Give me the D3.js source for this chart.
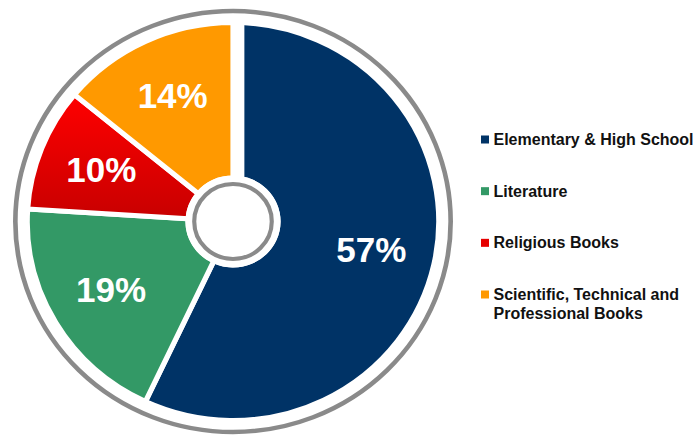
<!DOCTYPE html>
<html>
<head>
<meta charset="utf-8">
<script src="https://cdn.jsdelivr.net/npm/d3@7"></script>
<style>
  html, body { margin: 0; padding: 0; background: #fff; }
  svg { display: block; }
</style>
</head>
<body>
<svg id="chart" width="697" height="435"></svg>
<script>
// Book market share by category
const categories = ["Elementary & High School", "Literature", "Religious Books", "Scientific, Technical and Professional Books"];
const shares = [57, 19, 10, 14];
const shareLabels = ["57%", "19%", "10%", "14%"];
const colors = ["#003366", "#339966", "#e60000", "#ff9900"];
const legendLines = [["Elementary & High School"], ["Literature"], ["Religious Books"], ["Scientific, Technical and", "Professional Books"]];

const svg = d3.select("#chart");
const cx = 233, cy = 221.5, sx = 1.034;      // ring is slightly wider than tall
const outerR = 199, innerR = 43.5, labelR = 137;

const defs = svg.append("defs");
const redGrad = defs.append("linearGradient")
  .attr("id", "redFill").attr("x1", 0).attr("y1", 0).attr("x2", 0).attr("y2", 1);
redGrad.append("stop").attr("offset", "0%").attr("stop-color", "#ff0000");
redGrad.append("stop").attr("offset", "100%").attr("stop-color", "#c80000");

const pie = d3.pie().sort(null).value(d => d)(shares);
const arc = d3.arc().innerRadius(innerR).outerRadius(outerR);
const labelArc = d3.arc().innerRadius(labelR).outerRadius(labelR);

const g = svg.append("g").attr("transform", `translate(${cx},${cy}) scale(${sx},1)`);

// outer grey ring
g.append("circle").attr("r", 210.5)
  .attr("fill", "none").attr("stroke", "#8a8a8a").attr("stroke-width", 4.5);

// slices, separated by white borders
g.selectAll("path.slice").data(pie).join("path")
  .attr("class", "slice")
  .attr("d", arc)
  .attr("fill", (d, i) => i === 2 ? "url(#redFill)" : colors[i])
  .attr("stroke", "#fff").attr("stroke-width", 5).attr("stroke-linejoin", "miter");

// wider gap where the first slice begins
g.append("line")
  .attr("x1", 6).attr("x2", 6)
  .attr("y1", -innerR).attr("y2", -outerR - 3)
  .attr("stroke", "#fff").attr("stroke-width", 10);

// centre hole with grey ring
g.append("circle").attr("r", innerR + 2.5).attr("fill", "#fff");
g.append("circle").attr("r", 37.5)
  .attr("fill", "#fff").attr("stroke", "#8a8a8a").attr("stroke-width", 4);

// percentage labels
svg.append("g").selectAll("text").data(pie).join("text")
  .attr("x", d => cx + labelArc.centroid(d)[0] * sx)
  .attr("y", d => cy + labelArc.centroid(d)[1])
  .attr("dy", "0.3em")
  .attr("text-anchor", "middle")
  .attr("font-family", "'Liberation Sans', Arial, sans-serif")
  .attr("font-weight", "bold")
  .attr("font-size", 35)
  .attr("fill", "#fff")
  .text((d, i) => shareLabels[i]);

// legend
const legendY = d3.scalePoint().domain(categories).range([145, 300]);
const legend = svg.append("g").selectAll("g").data(categories).join("g")
  .attr("transform", d => `translate(481,${legendY(d)})`);
legend.append("rect")
  .attr("x", 0).attr("y", -9.5).attr("width", 8).attr("height", 8)
  .attr("fill", (d, i) => colors[i]);
legend.append("text")
  .attr("x", 12.5).attr("y", 0)
  .attr("font-family", "'Liberation Sans', Arial, sans-serif")
  .attr("font-weight", "bold")
  .attr("font-size", 16)
  .attr("fill", "#111")
  .selectAll("tspan").data((d, i) => legendLines[i]).join("tspan")
  .attr("x", 12.5).attr("dy", (d, j) => j === 0 ? 0 : 19)
  .text(d => d);
</script>
</body>
</html>
